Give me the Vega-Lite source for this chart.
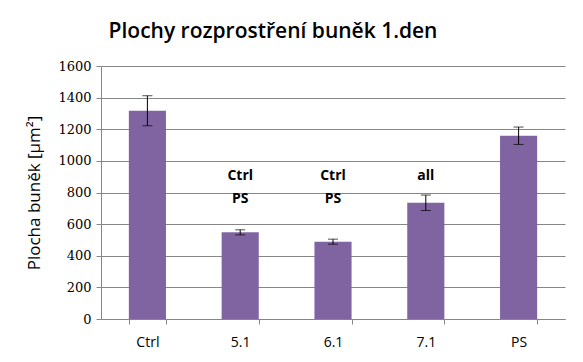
{
  "$schema": "https://vega.github.io/schema/vega-lite/v6.json",
  "autosize": "none",
  "width": 464,
  "height": 253,
  "padding": {"left": 101, "top": 66, "right": 18, "bottom": 43},
  "background": "white",
  "title": {
    "text": "Plochy rozprostření buněk 1.den",
    "font": "Open Sans",
    "fontSize": 21,
    "fontWeight": 600,
    "color": "black",
    "anchor": "middle",
    "dx": -60,
    "offset": 18
  },
  "config": {
    "view": {"stroke": null},
    "axisY": {
      "titleFont": "Open Sans",
      "titleFontSize": 17,
      "titleFontWeight": "normal",
      "titleColor": "black",
      "titlePadding": 14,
      "labelFont": "DejaVu Serif",
      "labelFontSize": 13,
      "labelColor": "black",
      "labelPadding": 5,
      "tickColor": "#868686",
      "tickSize": 5,
      "domainColor": "#868686",
      "gridColor": "#868686",
      "gridWidth": 1,
      "gridOpacity": 1
    }
  },
  "data": {
    "values": [
      {"group": "Ctrl", "mean": 1317, "err": 95, "l1": "", "l2": ""},
      {"group": "5.1", "mean": 548, "err": 16, "l1": "Ctrl", "l2": "PS"},
      {"group": "6.1", "mean": 489, "err": 16, "l1": "Ctrl", "l2": "PS"},
      {"group": "7.1", "mean": 735, "err": 49, "l1": "all", "l2": ""},
      {"group": "PS", "mean": 1159, "err": 55, "l1": "", "l2": ""}
    ]
  },
  "encoding": {
    "x": {
      "field": "group",
      "type": "nominal",
      "sort": null,
      "scale": {"paddingInner": 0.6, "paddingOuter": 0.3},
      "axis": {
        "title": null,
        "labelAngle": 0,
        "labelFont": "Open Sans",
        "labelFontSize": 14,
        "labelColor": "black",
        "labelPadding": 11,
        "tickBand": "extent",
        "tickColor": "#868686",
        "tickSize": 5,
        "domainColor": "#868686",
        "grid": false
      }
    }
  },
  "layer": [
    {
      "mark": {"type": "bar", "color": "#8064A2"},
      "encoding": {
        "y": {
          "field": "mean",
          "type": "quantitative",
          "scale": {"domain": [0, 1600]},
          "axis": {"values": [0, 200, 400, 600, 800, 1000, 1200, 1400, 1600], "format": "d", "title": "Plocha buněk [µm²]", "labelFont": "DejaVu Serif", "labelFontSize": 13}
        }
      }
    },
    {
      "mark": {"type": "errorbar", "ticks": {"size": 10, "color": "black"}, "color": "black", "thickness": 1},
      "encoding": {
        "y": {"field": "mean", "type": "quantitative", "axis": {"values": [0, 200, 400, 600, 800, 1000, 1200, 1400, 1600], "format": "d", "title": "Plocha buněk [µm²]", "labelFont": "DejaVu Serif", "labelFontSize": 13}},
        "yError": {"field": "err"}
      }
    },
    {
      "transform": [{"filter": "datum.l1 != ''"}],
      "mark": {"type": "text", "font": "Open Sans", "fontSize": 14, "fontWeight": "bold", "color": "black"},
      "encoding": {
        "y": {"datum": 905, "type": "quantitative", "axis": {"values": [0, 200, 400, 600, 800, 1000, 1200, 1400, 1600], "format": "d", "title": "Plocha buněk [µm²]", "labelFont": "DejaVu Serif", "labelFontSize": 13}},
        "text": {"field": "l1"}
      }
    },
    {
      "transform": [{"filter": "datum.l2 != ''"}],
      "mark": {"type": "text", "font": "Open Sans", "fontSize": 14, "fontWeight": "bold", "color": "black"},
      "encoding": {
        "y": {"datum": 756, "type": "quantitative", "axis": {"values": [0, 200, 400, 600, 800, 1000, 1200, 1400, 1600], "format": "d", "title": "Plocha buněk [µm²]", "labelFont": "DejaVu Serif", "labelFontSize": 13}},
        "text": {"field": "l2"}
      }
    }
  ]
}
